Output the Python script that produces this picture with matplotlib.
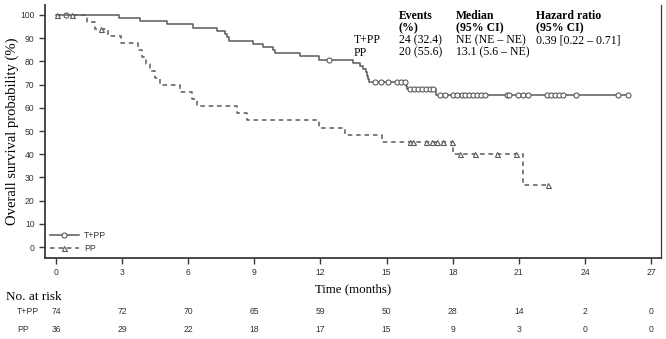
"""Kaplan-Meier overall survival, T+PP vs PP, with number-at-risk table."""
import matplotlib
import numpy as np

matplotlib.use("Agg")
import matplotlib.pyplot as plt
from matplotlib.lines import Line2D
from matplotlib.transforms import blended_transform_factory

# T+PP arm: event times (months) and survival (%) right after each drop
tpp_times = [2.86, 3.81, 5.02, 6.23, 7.29, 7.67, 7.75, 7.86, 8.95, 9.40,
             9.85, 9.95, 11.07, 11.93, 13.46, 13.80, 13.95, 14.05, 14.10,
             14.15, 14.20, 15.88, 15.92, 17.22]
tpp_surv = [98.6, 97.3, 95.9, 94.5, 93.2, 91.8, 90.4, 89.0, 87.7, 86.3,
            84.9, 83.6, 82.2, 80.8, 79.4, 78.0, 76.6, 75.3, 73.9,
            72.5, 71.1, 69.5, 68.0, 65.6]
tpp_censor = [0.45, 12.40, 14.47, 14.75, 15.06, 15.47, 15.65, 15.84,
              16.06, 16.24, 16.42, 16.60, 16.79, 16.97, 17.10,
              17.42, 17.65, 18.00, 18.20, 18.40, 18.55, 18.74, 18.92,
              19.10, 19.30, 19.46, 20.46, 20.56, 20.96, 21.19, 21.42,
              22.28, 22.46, 22.64, 22.82, 23.00, 23.60, 25.50, 25.95]
tpp_end = 26.0

# PP arm
pp_times = [1.39, 1.77, 2.37, 2.95, 3.73, 3.89, 4.10, 4.26, 4.49, 4.72,
            5.63, 6.15, 6.40, 8.20, 8.65, 11.95, 13.10, 14.78, 18.02, 21.20]
pp_surv = [97.1, 94.1, 91.0, 88.0, 85.0, 81.9, 78.9, 75.8, 72.8, 69.8,
           66.8, 63.8, 60.7, 57.7, 54.7, 51.5, 48.3, 45.1, 40.1, 26.7]
pp_censor = [0.05, 0.74, 2.04, 16.06, 16.20, 16.80, 17.05, 17.27, 17.57,
             17.95, 18.33, 19.00, 20.00, 20.87, 22.34]
pp_end = 22.34

risk_times = [0, 3, 6, 9, 12, 15, 18, 21, 24, 27]
tpp_at_risk = [74, 72, 70, 65, 59, 50, 28, 14, 2, 0]
pp_at_risk = [36, 29, 22, 18, 17, 15, 9, 3, 0, 0]

header = ["Events\n(%)", "Median\n(95% CI)", "Hazard ratio\n(95% CI)"]
tpp_row = ["T+PP", "24 (32.4)", "NE (NE \u2013 NE)", "0.39 [0.22 \u2013 0.71]"]
pp_row = ["PP", "20 (55.6)", "13.1 (5.6 \u2013 NE)", ""]

SERIF = ["Liberation Serif", "DejaVu Serif"]
SANS = ["Liberation Sans", "DejaVu Sans"]
LINE = "#5a5a5a"
TEXT = "#333333"
MS = 3.6
SMALL = 6.2


def km_xy(times, surv, end):
    x = np.r_[0.0, times, end]
    y = np.r_[100.0, surv, surv[-1]]
    return x, y


def surv_at(times, surv, t):
    idx = np.searchsorted(np.asarray(times), t, side="right")
    return np.r_[100.0, surv][idx]


fig = plt.figure(figsize=(6.66, 3.39), dpi=100)
ax = fig.add_axes([45 / 666, 1 - 258 / 339, 616 / 666, 253 / 339])

x, y = km_xy(tpp_times, tpp_surv, tpp_end)
ax.plot(x, y, drawstyle="steps-post", color=LINE, lw=1.1)
ax.plot(tpp_censor, surv_at(tpp_times, tpp_surv, tpp_censor), "o", ms=MS,
        mfc="white", mec=LINE, mew=0.8)

x, y = km_xy(pp_times, pp_surv, pp_end)
ax.plot(x, y, drawstyle="steps-post", color=LINE, lw=1.1,
        linestyle=(0, (3, 2.5)))
ax.plot(pp_censor, surv_at(pp_times, pp_surv, pp_censor), "^", ms=MS,
        mfc="white", mec=LINE, mew=0.8)

ax.set_xlim(-0.5, 27.45)
ax.set_ylim(-4.7, 104.3)
ax.set_xticks(risk_times)
ax.set_yticks(range(0, 101, 10))
ax.spines["top"].set_visible(False)
for side in ("left", "bottom", "right"):
    ax.spines[side].set_color("#3a3a3a")
ax.spines["left"].set_linewidth(1.3)
ax.spines["bottom"].set_linewidth(1.3)
ax.spines["right"].set_linewidth(0.9)
ax.tick_params(direction="out", length=4, width=1, color="#3a3a3a",
               labelsize=SMALL, labelcolor=TEXT)
for lab in ax.get_xticklabels() + ax.get_yticklabels():
    lab.set_family(SANS)
ax.set_xlabel("Time (months)", family=SERIF, fontsize=9.3, labelpad=4)
ax.set_ylabel("Overall survival probability (%)", family=SERIF,
              fontsize=10.5, labelpad=0.5)

handles = [
    Line2D([], [], color=LINE, lw=1.1, marker="o", ms=MS, mfc="white",
           mec=LINE, mew=0.8),
    Line2D([], [], color=LINE, lw=1.1, linestyle=(0, (3, 2.5)), marker="^",
           ms=MS, mfc="white", mec=LINE, mew=0.8),
]
leg = ax.legend(handles, ["T+PP", "PP"], loc="lower left", frameon=False,
                numpoints=1, handlelength=3.4, handletextpad=0.6,
                labelspacing=0.45, borderaxespad=0.15,
                prop={"family": SANS, "size": SMALL})
for t in leg.get_texts():
    t.set_color(TEXT)

# summary table inside plot
kw = dict(family=SERIF, fontsize=8.5, color="black", va="top",
          linespacing=1.05)
col_x = [15.56, 18.15, 21.77]
for cx, h in zip(col_x, header):
    ax.text(cx, 102.0, h, fontweight="bold", **kw)
for ry, row in ((91.8, tpp_row), (86.4, pp_row)):
    ax.text(13.52, ry, row[0], **kw)
    for cx, val in zip(col_x, row[1:]):
        ax.text(cx, ry, val, **kw)

# number at risk
fig.text(6 / 666, 1 - 297 / 339, "No. at risk", family=SERIF, fontsize=9.5,
         va="center", ha="left")
tr = blended_transform_factory(ax.transData, fig.transFigure)
for ry, name, counts in ((311, "T+PP", tpp_at_risk), (330, "PP", pp_at_risk)):
    yy = 1 - ry / 339
    fig.text(17 / 666, yy, name, family=SANS, fontsize=SMALL, color=TEXT,
             va="center", ha="left")
    for t, n in zip(risk_times, counts):
        ax.text(t, yy, str(n), transform=tr, family=SANS, fontsize=SMALL,
                color=TEXT, va="center", ha="center")

fig.savefig("out.png", dpi=100)
